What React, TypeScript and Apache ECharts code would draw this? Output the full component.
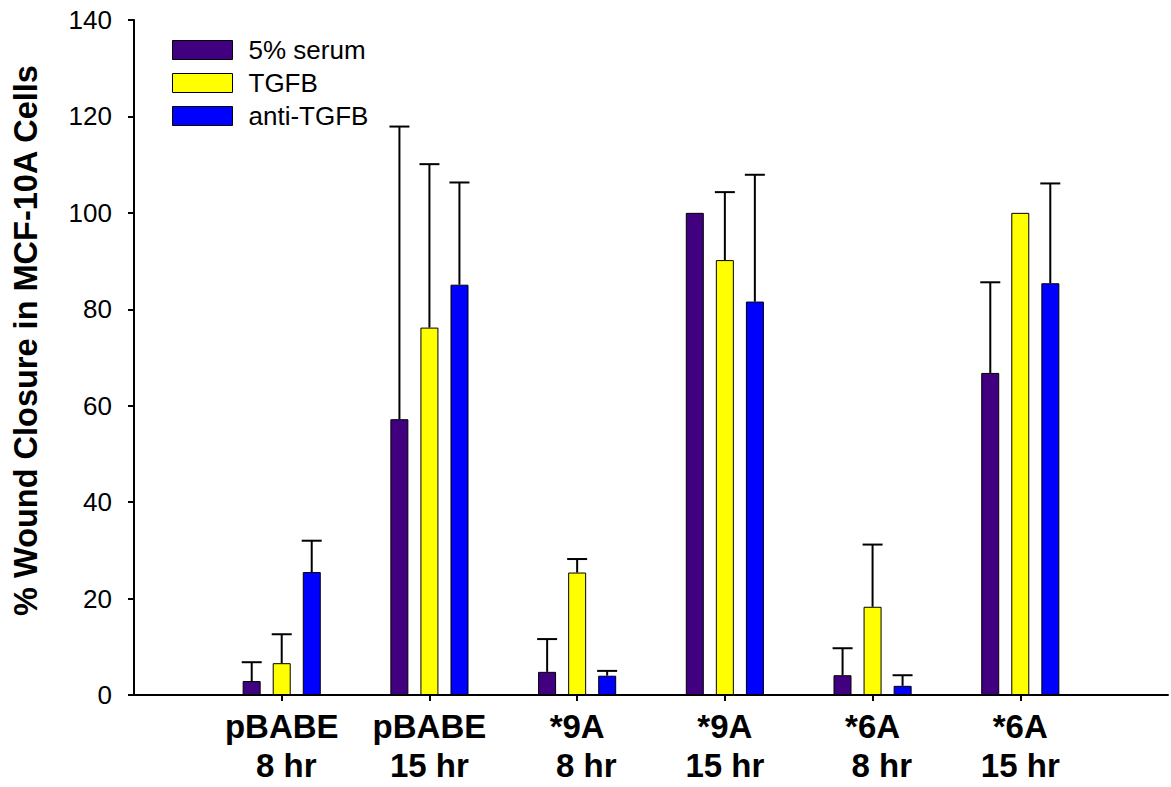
import React, { useEffect, useRef } from "react";
import * as echarts from "echarts";

const categories = ["pBABE\n 8 hr", "pBABE\n15 hr", "*9A\n  8 hr", "*9A\n15 hr", "*6A\n  8 hr", "*6A\n15 hr"];
const seriesNames = ["5% serum", "TGFB", "anti-TGFB"];
const serumValues = [2.9, 57.2, 4.8, 100, 4.1, 66.8];
const serumErrors = [3.9, 60.7, 6.8, 0, 5.6, 18.8];
const tgfbValues = [6.6, 76.2, 25.4, 90.2, 18.3, 100];
const tgfbErrors = [6.0, 33.9, 2.8, 14.1, 12.9, 0];
const antiValues = [25.5, 85.1, 4.0, 81.6, 1.9, 85.4];
const antiErrors = [6.5, 21.2, 1.0, 26.3, 2.2, 20.7];
const yTicks = [0, 20, 40, 60, 80, 100, 120, 140];

const colors = ["#400080", "#ffff00", "#0000ff"];
const FONT = 'Arial, "Liberation Sans", sans-serif';

export default function App() {
  const ref = useRef<HTMLDivElement>(null);
  useEffect(() => {
    if (!ref.current) return;
    const chart = echarts.init(ref.current, undefined, { renderer: "svg" });
    const axisCats = ["", ...categories, ""];
    const values = [serumValues, tgfbValues, antiValues];
    const errors = [serumErrors, tgfbErrors, antiErrors];
    const offsets = [-30, 0, 30];

    const barSeries = values.map((vals, s) => ({
      name: seriesNames[s],
      type: "bar",
      data: [null, ...vals, null],
      barWidth: 18,
      barGap: "67%",
      itemStyle: { color: colors[s], borderColor: "#000", borderWidth: 1 },
      z: 2,
    }));

    const errSeries = values.map((vals, s) => ({
      name: "err" + s,
      type: "custom",
      z: 3,
      data: vals.map((v, i) => [i + 1, v, v + errors[s][i]]),
      renderItem: (params: any, api: any) => {
        const base = api.coord([api.value(0), api.value(1)]);
        const top = api.coord([api.value(0), api.value(2)]);
        const x = base[0] + offsets[s];
        if (api.value(2) - api.value(1) <= 0) return { type: "group", children: [] };
        return {
          type: "group",
          children: [
            { type: "line", shape: { x1: x, y1: base[1], x2: x, y2: top[1] }, style: { stroke: "#000", lineWidth: 2 } },
            { type: "line", shape: { x1: x - 10, y1: top[1], x2: x + 10, y2: top[1] }, style: { stroke: "#000", lineWidth: 2 } },
          ],
        };
      },
    }));

    chart.setOption({
      animation: false,
      backgroundColor: "#fff",
      grid: { left: 134, right: -6, top: 20, bottom: 92, containLabel: false },
      legend: {
        data: seriesNames,
        orient: "vertical",
        left: 172,
        top: 37,
        padding: 0,
        itemWidth: 60,
        itemHeight: 19,
        itemGap: 7,
        icon: "rect",
        itemStyle: { borderColor: "#000", borderWidth: 1 },
        textStyle: { fontFamily: FONT, fontSize: 26, color: "#000", padding: [0, 0, 0, 11] },
      },
      xAxis: {
        type: "category",
        data: axisCats,
        boundaryGap: false,
        axisLine: { lineStyle: { color: "#000", width: 2 } },
        axisTick: {
          length: 6,
          lineStyle: { color: "#000", width: 2 },
          interval: (i: number) => i > 0 && i < axisCats.length - 1,
        },
        axisLabel: {
          interval: 0,
          margin: 12,
          fontFamily: FONT,
          fontSize: 33,
          fontWeight: "bold",
          color: "#000",
          lineHeight: 39,
        },
        splitLine: { show: false },
      },
      yAxis: {
        type: "value",
        min: yTicks[0],
        max: yTicks[yTicks.length - 1],
        interval: 20,
        name: "% Wound Closure in MCF-10A Cells",
        nameLocation: "middle",
        nameGap: 92,
        nameTextStyle: { fontFamily: FONT, fontSize: 32.5, fontWeight: "bold", color: "#000", padding: [0, 0, 0, 34] },
        axisLine: { show: true, lineStyle: { color: "#000", width: 2 } },
        axisTick: { show: true, length: 6, lineStyle: { color: "#000", width: 2 } },
        axisLabel: { margin: 22, fontFamily: FONT, fontSize: 26, color: "#000" },
        splitLine: { show: false },
      },
      series: [...barSeries, ...errSeries],
    });
    return () => chart.dispose();
  }, []);
  return <div ref={ref} style={{ position: "fixed", left: 0, top: 0, width: 1171, height: 787 }} />;
}
